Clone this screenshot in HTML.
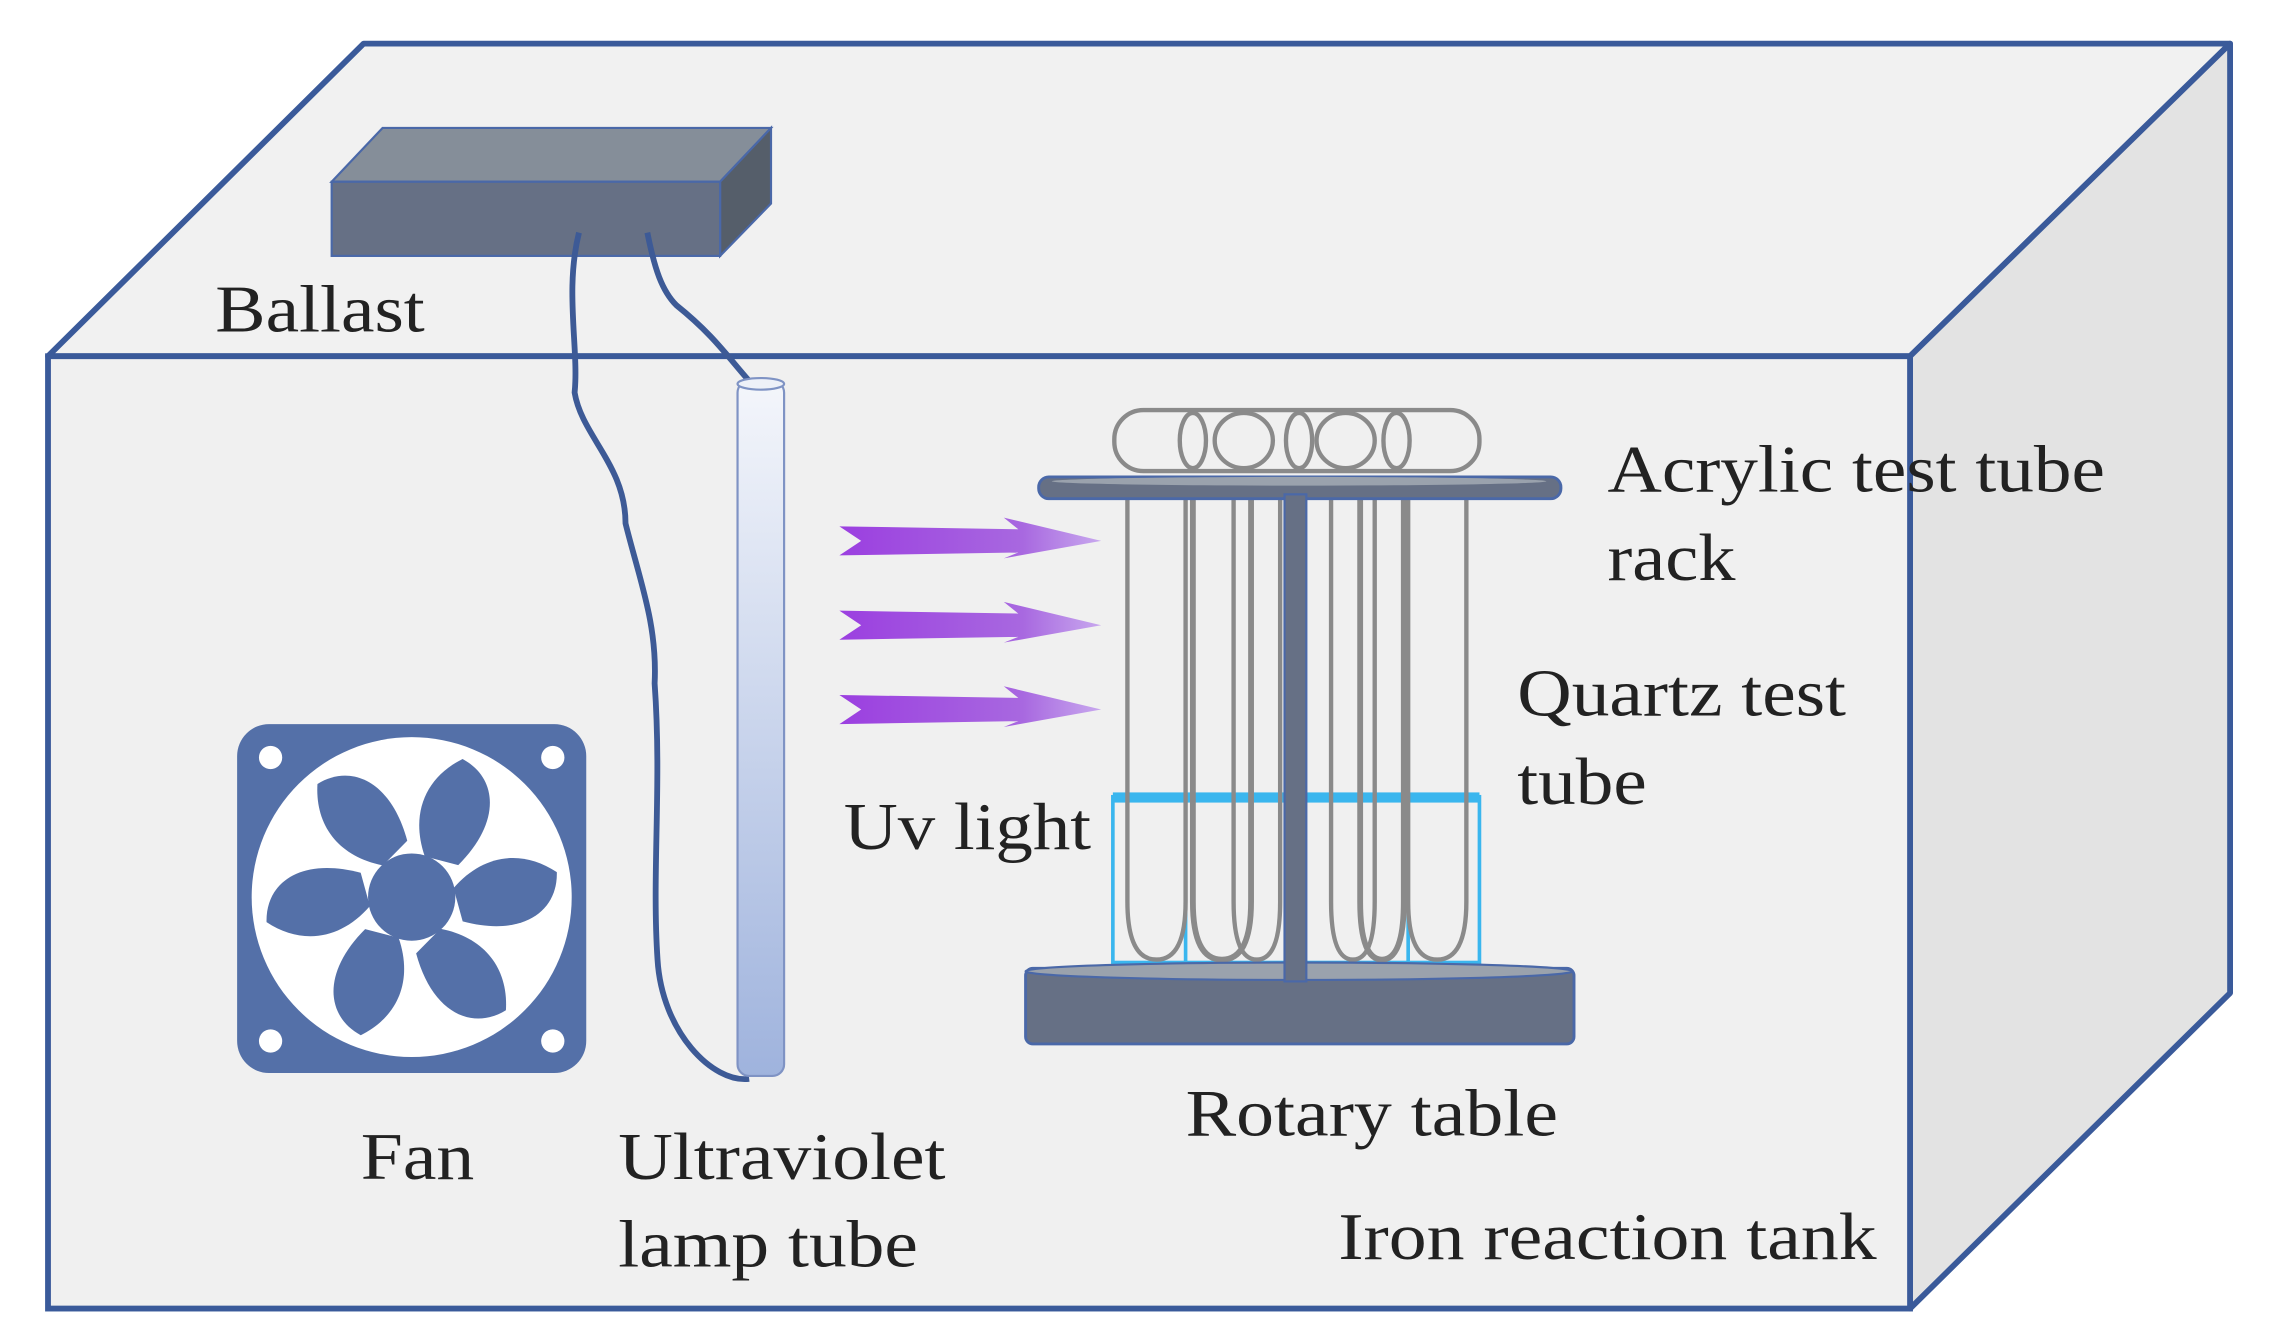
<!DOCTYPE html>
<html><head><meta charset="utf-8"><style>html,body{margin:0;padding:0;background:#fff}svg{display:block}</style></head>
<body>
<svg width="2281" height="1342" viewBox="0 0 1568 923" preserveAspectRatio="none" xmlns="http://www.w3.org/2000/svg">
<defs>
<linearGradient id="lamp" x1="0" y1="0" x2="0" y2="1"><stop offset="0" stop-color="#f4f6fb"/><stop offset="1" stop-color="#9fb3dd"/></linearGradient>
<linearGradient id="uv" x1="0" y1="0" x2="1" y2="0"><stop offset="0" stop-color="#9b3fe0"/><stop offset="0.7" stop-color="#a868e0"/><stop offset="1" stop-color="#c8a8ee"/></linearGradient>
<g id="arrow"><path d="M577,-10 L700,-8 L690,-16 L757,0 L690,12 L700,8 L577,10 L592,0 Z" fill="url(#uv)"/></g>
<path id="blade" d="M292,589 C282,560 292,535 318,522 C342,535 345,565 315,595 Z" fill="#5470a8"/>
</defs>
<rect width="1568" height="923" fill="#fff"/>
<polygon points="33,245 250,30 1533,30 1313,245" fill="#f1f1f1" stroke="#3a5a9a" stroke-width="4" stroke-linejoin="round"/>
<polygon points="1313,245 1533,30 1533,683 1313,900" fill="#e3e3e3" stroke="#3a5a9a" stroke-width="4" stroke-linejoin="round"/>
<rect x="33" y="245" width="1280" height="655" fill="#f0f0f0" stroke="#3a5a9a" stroke-width="4"/>
<polygon points="228,125 263,88 530,88 495,125" fill="#858e99" stroke="#4a68a8" stroke-width="1.5"/>
<polygon points="495,125 530,88 530,140 495,176" fill="#555e6a" stroke="#4a68a8" stroke-width="1.5"/>
<rect x="228" y="125" width="267" height="51" fill="#667085" stroke="#4a68a8" stroke-width="1.5"/>
<path d="M398,160 C388,200 398,240 395,270 C400,300 430,320 430,360 C440,400 452,430 450,470 C455,540 448,600 452,660 C455,710 490,745 515,742" fill="none" stroke="#3d5a96" stroke-width="4"/>
<path d="M445,160 C450,185 455,200 465,210 C490,230 500,245 515,262" fill="none" stroke="#3d5a96" stroke-width="4"/>
<rect x="507" y="262" width="32" height="478" rx="8" fill="url(#lamp)" stroke="#7f93c4" stroke-width="1.5"/>
<ellipse cx="523" cy="264" rx="16" ry="4" fill="#eef1f8" stroke="#7f93c4" stroke-width="1.5"/>
<use href="#arrow" transform="translate(0,372)"/>
<use href="#arrow" transform="translate(0,430)"/>
<use href="#arrow" transform="translate(0,488)"/>
<g fill="none" stroke="#8a8a8a" stroke-width="3">
<rect x="766" y="282" width="251" height="42" rx="20"/>
<ellipse cx="820" cy="303" rx="9" ry="19"/><ellipse cx="855" cy="303" rx="20" ry="19"/>
<ellipse cx="893" cy="303" rx="9" ry="19"/><ellipse cx="925" cy="303" rx="20" ry="19"/>
<ellipse cx="960" cy="303" rx="9" ry="19"/>
</g>
<g fill="none" stroke="#3ab6ee" stroke-width="2.5">
<rect x="765" y="548" width="252" height="114"/>
<line x1="815" y1="548" x2="815" y2="662"/><line x1="968" y1="548" x2="968" y2="662"/>
</g>
<rect x="765" y="545" width="252" height="7" fill="#3ab6ee"/>
<g fill="none" stroke="#8a8a8a" stroke-width="3">
<path d="M775,342 V620 Q775,660 795,660 Q815,660 815,620 V342"/>
<path d="M820,342 V620 Q820,660 840,660 Q860,660 860,620 V342" stroke-width="4"/>
<path d="M848,342 V620 Q848,660 864,660 Q880,660 880,620 V342"/>
<path d="M915,342 V620 Q915,660 930,660 Q945,660 945,620 V342"/>
<path d="M935,342 V620 Q935,660 950,660 Q965,660 965,620 V342" stroke-width="4"/>
<path d="M968,342 V620 Q968,660 988,660 Q1008,660 1008,620 V342"/>
</g>
<rect x="714" y="328" width="359" height="15" rx="7" fill="#667085" stroke="#4a68a8" stroke-width="2"/>
<ellipse cx="893" cy="331" rx="170" ry="3" fill="#9aa2ad"/>
<rect x="705" y="666" width="377" height="52" rx="5" fill="#667085" stroke="#4a68a8" stroke-width="2"/>
<ellipse cx="893" cy="668" rx="188" ry="6" fill="#9aa2ad" stroke="#4a68a8" stroke-width="1.5"/>
<rect x="883" y="340" width="15" height="335" fill="#667085" stroke="#4a68a8" stroke-width="1.5"/>
<rect x="163" y="498" width="240" height="240" rx="22" fill="#5470a8"/>
<circle cx="186" cy="521" r="8" fill="#fff"/><circle cx="380" cy="521" r="8" fill="#fff"/>
<circle cx="186" cy="716" r="8" fill="#fff"/><circle cx="380" cy="716" r="8" fill="#fff"/>
<circle cx="283" cy="617" r="110" fill="#fff"/>
<g>
<use href="#blade"/>
<use href="#blade" transform="rotate(60 283 617)"/>
<use href="#blade" transform="rotate(120 283 617)"/>
<use href="#blade" transform="rotate(180 283 617)"/>
<use href="#blade" transform="rotate(240 283 617)"/>
<use href="#blade" transform="rotate(300 283 617)"/>
</g>
<circle cx="283" cy="617" r="30" fill="#5470a8"/>
<g font-family="Liberation Serif, serif" font-size="46" fill="#222">
<text x="148" y="228" textLength="144" lengthAdjust="spacingAndGlyphs">Ballast</text>
<text x="1105" y="338" textLength="342" lengthAdjust="spacingAndGlyphs">Acrylic test tube</text>
<text x="1105" y="399" textLength="88" lengthAdjust="spacingAndGlyphs">rack</text>
<text x="1043" y="492" textLength="226" lengthAdjust="spacingAndGlyphs">Quartz test</text>
<text x="1043" y="553" textLength="89" lengthAdjust="spacingAndGlyphs">tube</text>
<text x="580" y="584" textLength="170" lengthAdjust="spacingAndGlyphs">Uv light</text>
<text x="248" y="811" textLength="78" lengthAdjust="spacingAndGlyphs">Fan</text>
<text x="425" y="811" textLength="225" lengthAdjust="spacingAndGlyphs">Ultraviolet</text>
<text x="425" y="871" textLength="206" lengthAdjust="spacingAndGlyphs">lamp tube</text>
<text x="815" y="781" textLength="256" lengthAdjust="spacingAndGlyphs">Rotary table</text>
<text x="920" y="866" textLength="370" lengthAdjust="spacingAndGlyphs">Iron reaction tank</text>
</g>
</svg>
</body></html>
